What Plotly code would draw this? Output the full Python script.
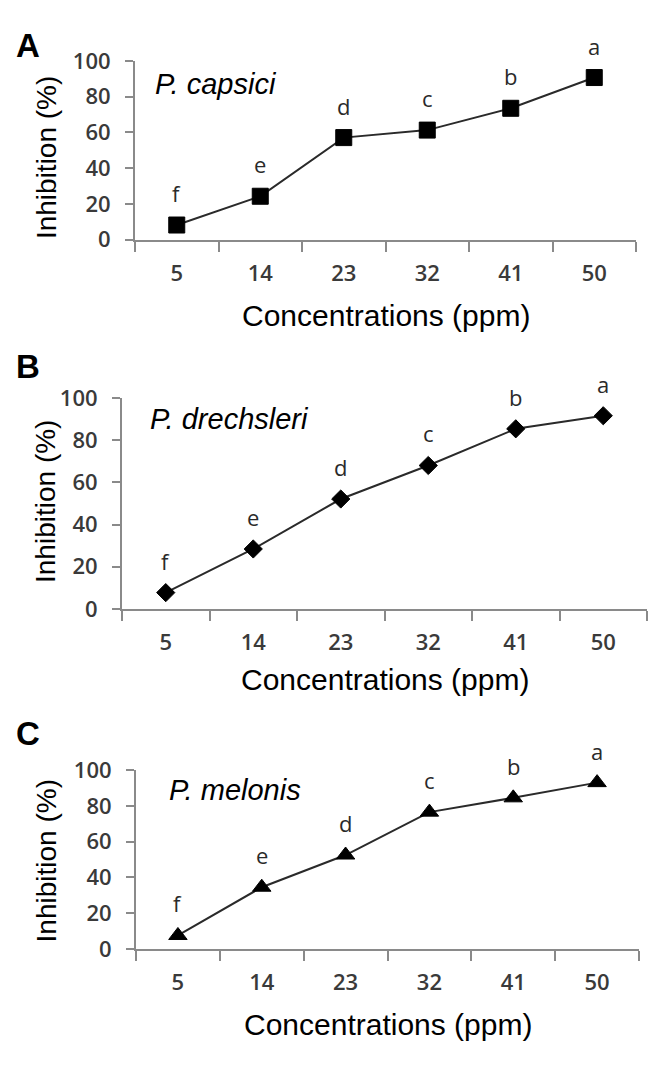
import plotly.graph_objects as go

# ---------------- data ----------------
concentrations = ["5", "14", "23", "32", "41", "50"]
letters = ["f", "e", "d", "c", "b", "a"]
capsici = [8.2, 24.3, 57.1, 61.3, 73.5, 90.7]
drechsleri = [7.7, 28.4, 52.1, 68.0, 85.4, 91.6]
melonis = [7.5, 34.5, 52.5, 76.5, 84.5, 93.0]
species = ["P. capsici", "P. drechsleri", "P. melonis"]
panel_labels = ["A", "B", "C"]
y_ticks = [0, 20, 40, 60, 80, 100]

# page is 665x1069; the html body has an 8px margin, so the figure is inset
PAGE_W, PAGE_H = 665, 1069
OFF = 8
W, H = PAGE_W - 2 * OFF, PAGE_H - 2 * OFF

def px_x(v):
    return (v - OFF) / W

def px_y(v):
    return 1 - (v - OFF) / H

# panel geometry in page pixels
panels = [
    dict(x0=135, x1=636, yt=46, yb=230, sym="square", size=16,
         vals=capsici, sp_x=153, sp_y=70, lab_y=30, xt_y=308, yt_y=146),
    dict(x0=122, x1=647, yt=393, yb=610, sym="diamond", size=14,
         vals=drechsleri, sp_x=148, sp_y=415, lab_y=361, xt_y=683, yt_y=500),
    dict(x0=136, x1=639, yt=776, yb=960, sym="triangle-up", size=16,
         vals=melonis, sp_x=167, sp_y=796, lab_y=738, xt_y=1038, yt_y=870),
]

fig = go.Figure()
tick_font = dict(family="Open Sans", size=22, color="#3a3a3a", weight=600)
axis_col = "#8a8a8a"

annotations = []
for i, p in enumerate(panels):
    n = "" if i == 0 else str(i + 1)
    xa, ya = "x" + n, "y" + n
    fig.add_trace(go.Scatter(
        x=concentrations, y=p["vals"], xaxis=xa, yaxis=ya,
        mode="lines+markers",
        line=dict(color="#2a2a2a", width=2),
        marker=dict(symbol=p["sym"], size=p["size"], color="black",
                    line=dict(color="black", width=1)),
        showlegend=False, hoverinfo="skip"))
    # significance letters (category index positions)
    for j, (v, l) in enumerate(zip(p["vals"], letters)):
        annotations.append(dict(x=j, y=v, xref=xa, yref=ya, text=l,
                                showarrow=False, yshift=32,
                                font=dict(family="Open Sans", size=22, color="#2a2a2a",
                                          weight=500)))
    fig.update_layout(**{
        "xaxis" + n: dict(
            domain=[px_x(p["x0"]), px_x(p["x1"])], anchor=ya,
            type="category", range=[-0.5, 5.5],
            showline=True, linecolor=axis_col, linewidth=2,
            ticks="outside", ticklen=10, tickwidth=2, tickcolor=axis_col,
            tickson="boundaries", ticklabelstandoff=13,
            tickfont=tick_font, showgrid=False, zeroline=False, fixedrange=True),
        "yaxis" + n: dict(
            domain=[px_y(p["yb"]), px_y(p["yt"])], anchor=xa,
            range=[0, 100], tickvals=y_ticks,
            showline=True, linecolor=axis_col, linewidth=2,
            ticks="outside", ticklen=8, tickwidth=2, tickcolor=axis_col,
            ticklabelstandoff=10,
            tickfont=tick_font, showgrid=False, zeroline=False, fixedrange=True),
    })
    # species name
    annotations.append(dict(x=px_x(p["sp_x"]), y=px_y(p["sp_y"]), xref="paper", yref="paper",
                            xanchor="left", yanchor="middle", showarrow=False,
                            text="<i>" + species[i] + "</i>",
                            font=dict(family="Liberation Sans", size=29, color="black")))
    # panel letter
    annotations.append(dict(x=px_x(28), y=px_y(p["lab_y"]), xref="paper", yref="paper",
                            xanchor="center", yanchor="middle", showarrow=False,
                            text="<b>" + panel_labels[i] + "</b>",
                            font=dict(family="Liberation Sans", size=33, color="black")))
    # x title
    annotations.append(dict(x=(px_x(p["x0"]) + px_x(p["x1"])) / 2, y=px_y(p["xt_y"]),
                            xref="paper", yref="paper", xanchor="center", yanchor="middle",
                            showarrow=False, text="Concentrations (ppm)",
                            font=dict(family="Liberation Sans", size=30, color="black")))
    # y title
    annotations.append(dict(x=px_x(46), y=px_y(p["yt_y"]), xref="paper", yref="paper",
                            xanchor="center", yanchor="middle", showarrow=False,
                            textangle=-90, text="Inhibition (%)",
                            font=dict(family="Liberation Sans", size=28, color="black")))

fig.update_layout(width=W, height=H, margin=dict(l=0, r=0, t=0, b=0),
                  paper_bgcolor="white", plot_bgcolor="white",
                  annotations=annotations)

fig.write_html("out.html", config={"displayModeBar": False})
